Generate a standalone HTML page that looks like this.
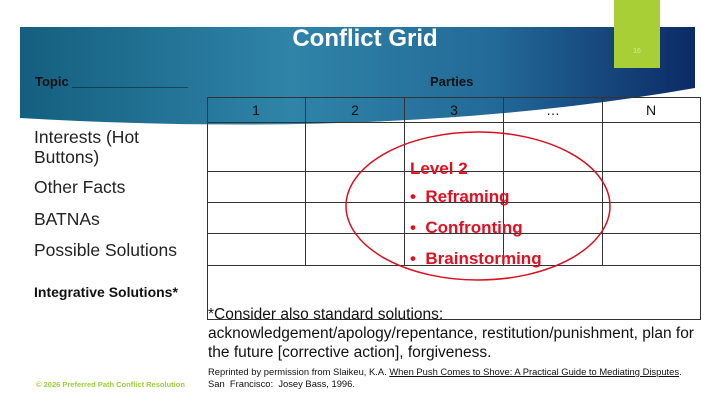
<!DOCTYPE html>
<html><head><meta charset="utf-8"><style>
body{margin:0;width:720px;height:405px;background:#fff;position:relative;overflow:hidden;font-family:"Liberation Sans",sans-serif}
.a{position:absolute;white-space:nowrap}
</style></head><body>
<svg width="720" height="405" style="position:absolute;left:0;top:0">
<defs>
<linearGradient id="g" x1="0" y1="0" x2="1" y2="0">
<stop offset="0" stop-color="#145f80"/><stop offset="0.4" stop-color="#2f84a8"/><stop offset="0.7" stop-color="#236a98"/><stop offset="1" stop-color="#0c2a66"/>
</linearGradient>
</defs>
<path d="M20,27 L695,27 L695,88 Q400,140 20,118 Z" fill="url(#g)"/>
<rect x="614" y="0" width="46" height="68" fill="#a8cf35"/>
<text x="637" y="53" font-size="7" fill="#d8ec9a" text-anchor="middle">16</text>
<g stroke="#333" stroke-width="1" fill="none">
<rect x="207.5" y="97.5" width="493" height="222"/>
<line x1="207" y1="122.5" x2="700" y2="122.5"/>
<line x1="207" y1="171.5" x2="700" y2="171.5"/>
<line x1="207" y1="202.5" x2="700" y2="202.5"/>
<line x1="207" y1="233.5" x2="700" y2="233.5"/>
<line x1="207" y1="265.5" x2="700" y2="265.5"/>
<line x1="305.5" y1="97" x2="305.5" y2="265"/>
<line x1="404.5" y1="97" x2="404.5" y2="265"/>
<line x1="503.5" y1="97" x2="503.5" y2="265"/>
<line x1="602.5" y1="97" x2="602.5" y2="265"/>
</g>
<ellipse cx="478" cy="206" rx="132" ry="74" fill="none" stroke="#d81020" stroke-width="1.5"/>
<g font-size="14" fill="#111" text-anchor="middle">
<text x="256" y="115">1</text><text x="355" y="115">2</text><text x="454" y="115">3</text><text x="553" y="115">…</text><text x="651" y="115">N</text>
</g>
</svg>
<div class="a" style="left:0;width:730px;top:25px;text-align:center;font-size:24px;font-weight:bold;color:#fff">Conflict Grid</div>
<div class="a" style="left:35px;top:74px;font-size:13px;font-weight:bold;color:#111">Topic ________________</div>
<div class="a" style="left:430px;top:74px;font-size:13px;font-weight:bold;color:#111">Parties</div>
<div class="a" style="left:34px;top:127px;font-size:17.5px;color:#222;line-height:20px">Interests (Hot<br>Buttons)</div>
<div class="a" style="left:34px;top:177px;font-size:17.5px;color:#222">Other Facts</div>
<div class="a" style="left:34px;top:209px;font-size:17.5px;color:#222">BATNAs</div>
<div class="a" style="left:34px;top:240px;font-size:17.5px;color:#222">Possible Solutions</div>
<div class="a" style="left:34px;top:284px;font-size:14px;font-weight:bold;color:#111">Integrative Solutions*</div>
<div class="a" style="left:410px;top:159px;font-size:17px;font-weight:bold;color:#e01020">Level 2</div>
<div class="a" style="left:410px;top:187px;font-size:17px;font-weight:bold;color:#e01020">•&nbsp; Reframing</div>
<div class="a" style="left:410px;top:218px;font-size:17px;font-weight:bold;color:#e01020">•&nbsp; Confronting</div>
<div class="a" style="left:410px;top:249px;font-size:17px;font-weight:bold;color:#e01020">•&nbsp; Brainstorming</div>
<div class="a" style="left:208px;top:305px;font-size:15.5px;color:#111;line-height:19px">*Consider also standard solutions:<br>acknowledgement/apology/repentance, restitution/punishment, plan for<br>the future [corrective action], forgiveness.</div>
<div class="a" style="left:208px;top:366px;font-size:9.4px;color:#111;line-height:12px">Reprinted by permission from Slaikeu, K.A. <u>When Push Comes to Shove: A Practical Guide to Mediating Disputes</u>.<br>San &nbsp;Francisco: &nbsp;Josey Bass, 1996.</div>
<div class="a" style="left:36px;top:380px;font-size:7.5px;font-weight:bold;color:#9ccc3a">© 2026 Preferred Path Conflict Resolution</div>
</body></html>
